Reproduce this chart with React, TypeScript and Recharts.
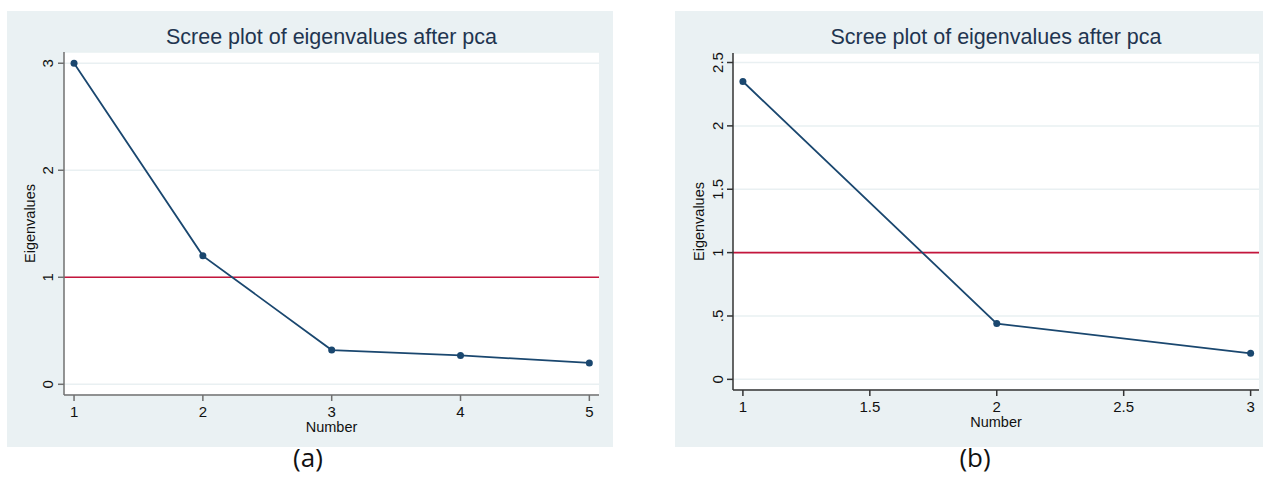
import { LineChart, Line, XAxis, YAxis, CartesianGrid, ReferenceLine } from 'recharts'

// panel (a): five components
const numbersA = [1, 2, 3, 4, 5]
const eigenA = [3.0, 1.2, 0.32, 0.27, 0.2]
const xTicksA = [1, 2, 3, 4, 5]
const yTicksA = [0, 1, 2, 3]

// panel (b): three components
const numbersB = [1, 2, 3]
const eigenB = [2.35, 0.44, 0.205]
const xTicksB = [1, 1.5, 2, 2.5, 3]
const yTicksB = [0, 0.5, 1, 1.5, 2, 2.5]

const TITLE = 'Scree plot of eigenvalues after pca'
const X_LABEL = 'Number'
const Y_LABEL = 'Eigenvalues'
const CUTOFF = 1
const CAPTIONS = ['(a)', '(b)']

const FONT = '"Liberation Sans", Arial, sans-serif'
const NAVY = '#1a476f'
const BG = '#eaf1f3'

// Stata writes 0.5 as .5
const stataNum = (v: number) => {
  const s = String(v)
  return s.startsWith('0.') ? s.slice(1) : s
}

function RotatedTick({ x, y, payload }: any) {
  return (
    <text
      x={x}
      y={y}
      transform={`rotate(-90 ${x} ${y})`}
      textAnchor="middle"
      fontSize={15}
      fontFamily={FONT}
      fill="#111"
    >
      {stataNum(payload.value)}
    </text>
  )
}

interface PanelProps {
  xs: number[]
  ys: number[]
  xTicks: number[]
  yTicks: number[]
  xDomain: [number, number]
  yDomain: [number, number]
  left: number
  width: number
  margin: { top: number; right: number; bottom: number; left: number }
  axisColor: string
  yTickMargin: number
}

function ScreePanel(p: PanelProps) {
  const height = 436
  const data = p.xs.map((n, i) => ({ n, eig: p.ys[i] }))
  const plotLeft = p.margin.left + 50
  const plotWidth = p.width - plotLeft - p.margin.right
  return (
    <div style={{ position: 'absolute', left: p.left, top: 11, width: p.width, height, background: BG }}>
      <div
        style={{
          position: 'absolute',
          left: plotLeft,
          width: plotWidth,
          top: 16,
          textAlign: 'center',
          fontFamily: FONT,
          fontSize: 21.5,
          lineHeight: 1,
          color: '#1f3550',
          whiteSpace: 'nowrap',
        }}
      >
        {TITLE}
      </div>
      <LineChart width={p.width} height={height} data={data} margin={p.margin}>
        <CartesianGrid vertical={false} stroke="#e9f0f2" strokeWidth={1.5} fill="#fff" />
        <XAxis
          dataKey="n"
          type="number"
          domain={p.xDomain}
          ticks={p.xTicks}
          height={45}
          tickSize={6}
          tickMargin={5}
          stroke={p.axisColor}
          strokeWidth={1.5}
          tick={{ fontSize: 15, fontFamily: FONT, fill: '#111' }}
          tickFormatter={stataNum}
          label={({ viewBox }: any) => (
            <text
              x={viewBox.x + viewBox.width / 2}
              y={viewBox.y + 37}
              textAnchor="middle"
              fontSize={14.5}
              fontFamily={FONT}
              fill="#111"
            >
              {X_LABEL}
            </text>
          )}
        />
        <YAxis
          type="number"
          domain={p.yDomain}
          ticks={p.yTicks}
          width={50}
          tickSize={6}
          tickMargin={p.yTickMargin}
          stroke={p.axisColor}
          strokeWidth={1.5}
          tick={<RotatedTick />}
          label={({ viewBox }: any) => {
            const x = viewBox.x + 21
            const y = viewBox.y + viewBox.height / 2
            return (
              <text
                x={x}
                y={y}
                transform={`rotate(-90 ${x} ${y})`}
                textAnchor="middle"
                fontSize={14.5}
                fontFamily={FONT}
                fill="#111"
              >
                {Y_LABEL}
              </text>
            )
          }}
        />
        <ReferenceLine y={CUTOFF} stroke="#c4163c" strokeWidth={1.6} />
        <Line
          dataKey="eig"
          stroke={NAVY}
          strokeWidth={1.8}
          dot={{ r: 3.5, fill: NAVY, stroke: NAVY, strokeWidth: 0 }}
          activeDot={false}
          isAnimationActive={false}
        />
      </LineChart>
    </div>
  )
}

function Caption({ text, cx }: { text: string; cx: number }) {
  return (
    <div
      style={{
        position: 'absolute',
        left: cx - 40,
        width: 80,
        top: 444,
        textAlign: 'center',
        fontFamily: '"Open Sans", sans-serif',
        fontSize: 26,
        lineHeight: 1,
        color: '#111',
      }}
    >
      {text}
    </div>
  )
}

export default function App() {
  return (
    <div style={{ position: 'absolute', left: 0, top: 0, width: 1263, height: 479, background: '#fff' }}>
      <ScreePanel
        xs={numbersA}
        ys={eigenA}
        xTicks={xTicksA}
        yTicks={yTicksA}
        xDomain={[0.922, 5.075]}
        yDomain={[-0.1, 3.105]}
        left={7}
        width={606}
        margin={{ top: 41, right: 14, bottom: 7, left: 7 }}
        axisColor="#707070"
        yTickMargin={5}
      />
      <ScreePanel
        xs={numbersB}
        ys={eigenB}
        xTicks={xTicksB}
        yTicks={yTicksB}
        xDomain={[0.961, 3.033]}
        yDomain={[-0.084, 2.575]}
        left={675}
        width={588}
        margin={{ top: 42, right: 4, bottom: 12, left: 8 }}
        axisColor="#333"
        yTickMargin={4}
      />
      <Caption text={CAPTIONS[0]} cx={308} />
      <Caption text={CAPTIONS[1]} cx={975} />
    </div>
  )
}
